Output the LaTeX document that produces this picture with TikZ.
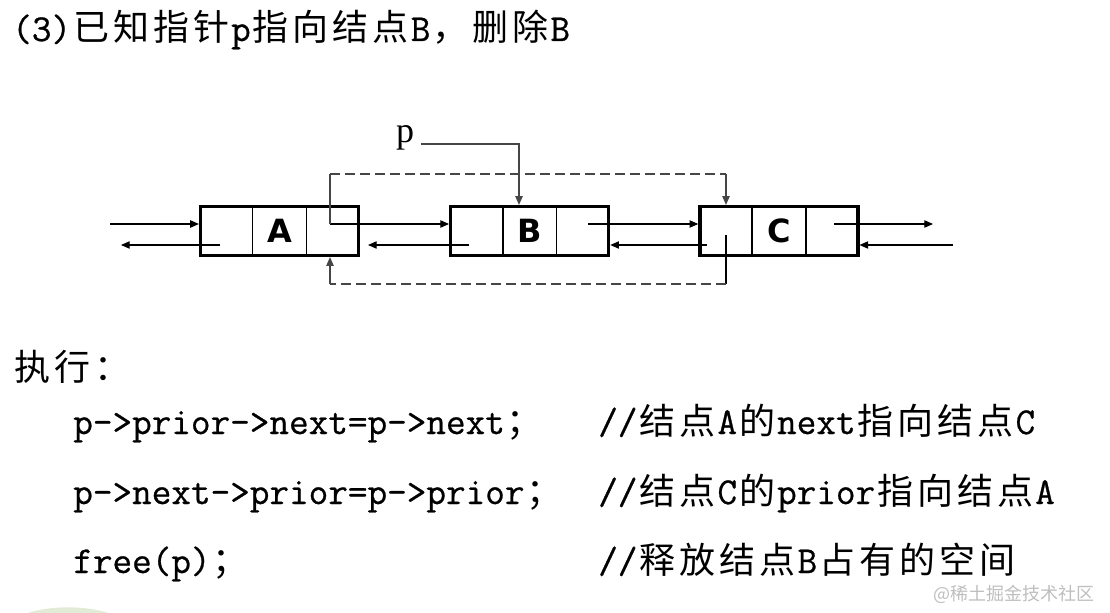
\documentclass[tikz,border=0pt]{standalone}
\usepackage{fontspec}
\usetikzlibrary{arrows.meta,positioning,calc}
\newfontfamily\cjk{Noto Sans CJK SC}
\newfontfamily\codefont{Latin Modern Mono}[FakeBold=0.7]
\newfontfamily\boxfont{DejaVu Sans}
\newfontfamily\labelfont{Liberation Serif}
% every CJK character on a 30pt grid
\def\zhloop#1{\ifx\relax#1\else\makebox[30pt]{#1}\expandafter\zhloop\fi}
\newcommand\zh[1]{{\cjk\fontsize{27pt}{32pt}\selectfont\zhloop#1\relax}}
\definecolor{linkgray}{RGB}{70,70,70}
\definecolor{markgray}{RGB}{190,190,190}
\definecolor{blobgreen}{RGB}{214,226,196}

\begin{document}
\begin{tikzpicture}[x=0.75pt,y=-0.75pt,
  code/.style={anchor=base west,inner sep=0pt,
               font=\codefont\fontsize{28.57pt}{36pt}\selectfont},
  lnode/.style={draw,line width=2.4pt,minimum width=118.5pt,
                minimum height=36.75pt,inner sep=0pt,
                font=\boxfont\bfseries\fontsize{24pt}{28pt}\selectfont},
  cell/.style={line width=1.1pt},
  ptr/.style={-{Triangle[length=6.5pt,width=5.5pt]},line width=0.8pt},
  dlink/.style={dash pattern=on 7.5pt off 3.75pt,line width=0.8pt,draw=linkgray}]
\useasboundingbox (0,0) rectangle (1110,613);

% ---- heading ----
\node[code] (title) at (12,41) {(3)\zh{已知指针}p\zh{指向结点}B\zh{，删除}B};

% ---- list nodes ----
\node[lnode] (A) at (279.5,231) {A};
\node[lnode,right=66.75pt of A] (B) {B};
\node[lnode,right=66pt of B] (C) {C};
\foreach \n in {A,B,C}{
  \draw[cell] ($(\n.north west)!1/3!(\n.north east)$) -- ($(\n.south west)!1/3!(\n.south east)$);
  \draw[cell] ($(\n.north west)!2/3!(\n.north east)$) -- ($(\n.south west)!2/3!(\n.south east)$);
}

% ---- prior / next links ----
\coordinate (inL) at (110,224);  \coordinate (outL) at (121,245);
\coordinate (aPr) at (220,245);  \coordinate (aNx) at (330,224);
\coordinate (bPr) at (469,245);  \coordinate (bPrEnd) at (368,245);
\coordinate (bNx) at (588,224);  \coordinate (cPr) at (707,245);
\coordinate (cNx) at (834,224);  \coordinate (outR) at (933,224);
\coordinate (inR) at (953,245);
\draw[ptr] (inL) -- (inL -| A.west);
\draw[ptr] (aPr) -- (outL);
\draw[ptr] (aNx) -- (aNx -| B.west);
\draw[ptr] (bPr) -- (bPrEnd);
\draw[ptr] (bNx) -- (bNx -| C.west);
\draw[ptr] (cPr) -- (cPr -| B.east);
\draw[ptr] (cNx) -- (outR);
\draw[ptr] (inR) -- (inR -| C.east);

% ---- pointer p ----
\node[inner sep=0pt,anchor=base,font=\labelfont\fontsize{27pt}{30pt}\selectfont] (p) at (405,143) {p};
\coordinate (pB) at (519,144);
\draw[ptr,draw=linkgray] ($(p.base east)+(5pt,-0.75pt)$) -| (pB |- B.north);

% ---- bypass of B ----
\coordinate (aUp) at (330,174);  \coordinate (cUp) at (726,174);
\draw[line width=0.8pt,draw=linkgray] (aNx) -- (aUp);
\draw[dlink] (aUp) -- (cUp);
\draw[ptr,draw=linkgray] (cUp) -- (cUp |- C.north);
\coordinate (cDn) at (726,235);  \coordinate (cLow) at (726,284);
\coordinate (aLow) at (330,284);
\draw[line width=0.8pt] (cDn) -- (cLow);
\draw[dlink] (cLow) -- (aLow);
\draw[ptr,draw=linkgray] (aLow) -- (aLow |- A.south);

% ---- statements ----
\node[code] (exec) at (12,380) {\zh{执行：}};
\node[code] (s1) at (73,434) {p->prior->next=p->next\zh{；}};
\node[code] (c1) at (598,434) {//\zh{结点}A\zh{的}next\zh{指向结点}C};
\node[code] (s2) at (73,504) {p->next->prior=p->prior\zh{；}};
\node[code] (c2) at (598,504) {//\zh{结点}C\zh{的}prior\zh{指向结点}A};
\node[code] (s3) at (73,573) {free(p)\zh{；}};
\node[code] (c3) at (598,573) {//\zh{释放结点}B\zh{占有的空间}};

% ---- watermark and background fragment ----
\fill[blobgreen,opacity=0.7] (68,626) ellipse [x radius=42pt,y radius=14pt];
\node[font=\cjk\fontsize{13.5pt}{16pt}\selectfont,text=markgray] (mark) at (1014,594) {@稀土掘金技术社区};
\end{tikzpicture}
\end{document}
